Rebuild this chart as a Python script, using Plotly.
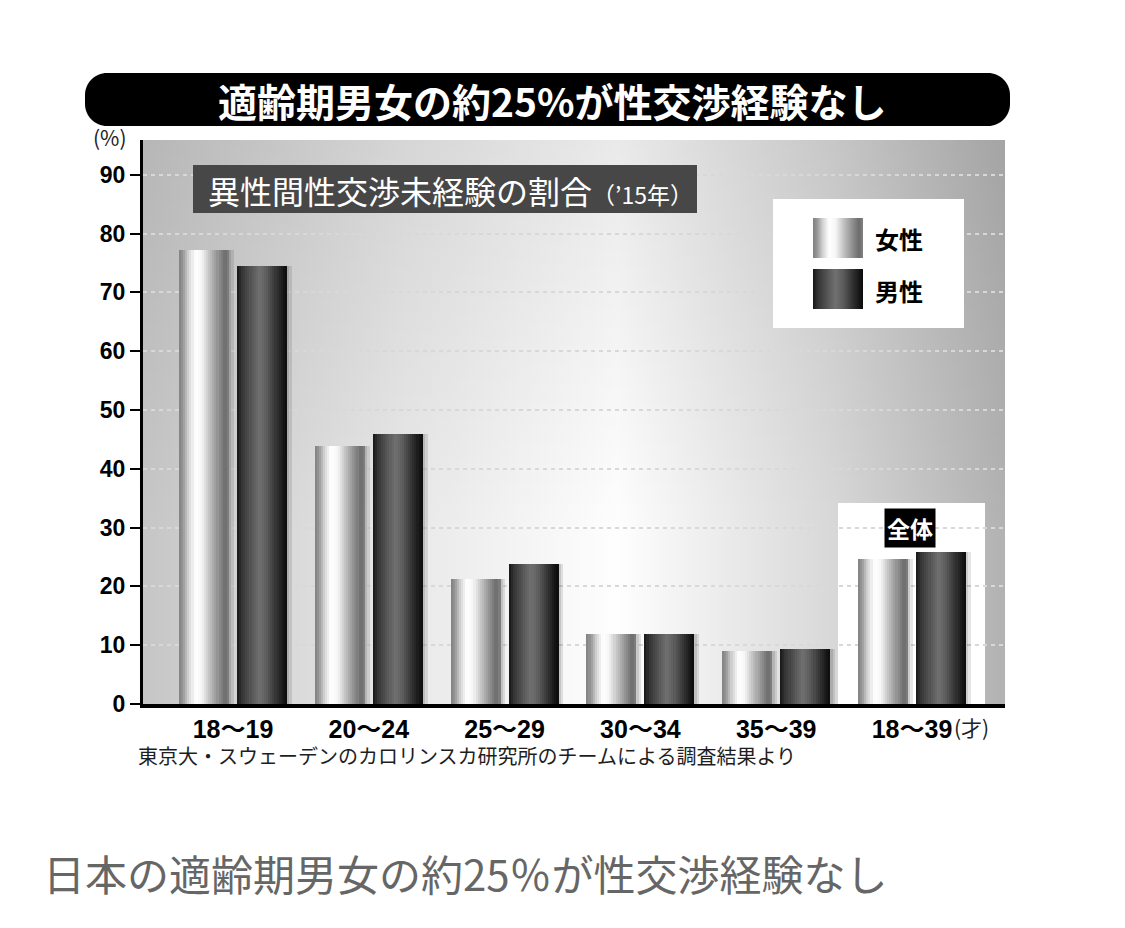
import base64
import plotly.graph_objects as go

categories = ["18〜19", "20〜24", "25〜29", "30〜34", "35〜39", "18〜39"]
female = [77.2, 43.8, 21.2, 11.9, 9.0, 24.6]
male = [74.5, 46.0, 23.8, 11.9, 9.4, 25.9]
y_ticks = [0, 10, 20, 30, 40, 50, 60, 70, 80, 90]

# plot area in pixels of the reference (left, right, top, bottom)
L, R, T, B = 143, 1005, 140, 704
W, H = R - L, B - T
PAGE = 8  # the page body margin shifts the figure by this much

BAR_W = 0.368
STRIPS = 24
FEMALE_SHADE = [(0, 128), (0.08, 150), (0.2, 212), (0.32, 255), (0.45, 246),
                (0.62, 192), (0.8, 140), (0.92, 108), (1, 130)]
MALE_SHADE = [(0, 22), (0.1, 52), (0.3, 88), (0.45, 112), (0.6, 92),
              (0.8, 48), (0.95, 18), (1, 12)]


def shade_at(profile, t):
    for (t0, g0), (t1, g1) in zip(profile, profile[1:]):
        if t0 <= t <= t1:
            return int(round(g0 + (g1 - g0) * (t - t0) / (t1 - t0)))
    return profile[-1][1]


def grey(g):
    return f"rgb({g},{g},{g})"


def px(x, y):
    return (x - L) / W, (B - y) / H


def svg_uri(body, w=100, h=100):
    svg = (f"<svg xmlns='http://www.w3.org/2000/svg' width='{w}' height='{h}' "
           f"viewBox='0 0 {w} {h}' preserveAspectRatio='none'>{body}</svg>")
    return "data:image/svg+xml;base64," + base64.b64encode(svg.encode()).decode()


def stops(profile):
    return "".join(f"<stop offset='{t}' stop-color='{grey(g)}'/>" for t, g in profile)


background = svg_uri(
    "<defs><linearGradient id='h' x1='0' y1='0' x2='1' y2='0'>"
    "<stop offset='0' stop-color='#c6c6c6'/><stop offset='0.3' stop-color='#e8e8e8'/>"
    "<stop offset='0.55' stop-color='#fefefe'/><stop offset='0.8' stop-color='#d8d8d8'/>"
    "<stop offset='1' stop-color='#b2b2b2'/></linearGradient>"
    "<linearGradient id='v' x1='0' y1='0' x2='0' y2='1'>"
    "<stop offset='0' stop-color='#000' stop-opacity='0.08'/>"
    "<stop offset='0.7' stop-color='#000' stop-opacity='0'/></linearGradient></defs>"
    "<rect width='100' height='100' fill='url(#h)'/>"
    "<rect width='100' height='100' fill='url(#v)'/>"
)

# legend box: white panel with the two shaded swatches
lg_x0, lg_x1, lg_y0, lg_y1 = 773, 964, 199, 328
legend_img = svg_uri(
    "<defs>"
    f"<linearGradient id='f' x1='0' y1='0' x2='1' y2='0'>{stops(FEMALE_SHADE)}</linearGradient>"
    f"<linearGradient id='m' x1='0' y1='0' x2='1' y2='0'>{stops(MALE_SHADE)}</linearGradient>"
    "</defs>"
    f"<rect width='{lg_x1 - lg_x0}' height='{lg_y1 - lg_y0}' fill='white'/>"
    "<rect x='40' y='19' width='50' height='40' fill='url(#f)'/>"
    "<rect x='40' y='70' width='50' height='40' fill='url(#m)'/>",
    lg_x1 - lg_x0, lg_y1 - lg_y0,
)

fig = go.Figure()

series = [("女性", female, -0.398, FEMALE_SHADE), ("男性", male, 0.029, MALE_SHADE)]

# soft shadows to the right of the bars
for name, vals, off, prof in series:
    for k, a in enumerate([0.2, 0.1]):
        fig.add_trace(go.Bar(
            x=categories, y=vals, offset=off + BAR_W + k * 0.018, width=0.018,
            marker=dict(color=f"rgba(0,0,0,{a})", line=dict(width=0)),
            hoverinfo="skip", showlegend=False,
        ))

# each bar is drawn as narrow vertical strips to get the cylinder shading
sw = BAR_W / STRIPS
for name, vals, off, prof in series:
    for i in range(STRIPS):
        o = off + i * sw
        fig.add_trace(go.Bar(
            x=categories, y=vals, offset=o, width=min(sw * 1.6, off + BAR_W - o),
            marker=dict(color=grey(shade_at(prof, (i + 0.5) / STRIPS)), line=dict(width=0)),
            name=name, hoverinfo="skip" if i else "x+y+name", showlegend=False,
        ))

# rounded title bar
tl, tr, tt, tb, r = 85, 1010, 73, 126, 22
k = 0.5523 * r
pts = [
    ("M", [(tl + r, tt)]), ("L", [(tr - r, tt)]),
    ("C", [(tr - r + k, tt), (tr, tt + r - k), (tr, tt + r)]), ("L", [(tr, tb - r)]),
    ("C", [(tr, tb - r + k), (tr - r + k, tb), (tr - r, tb)]), ("L", [(tl + r, tb)]),
    ("C", [(tl + r - k, tb), (tl, tb - r + k), (tl, tb - r)]), ("L", [(tl, tt + r)]),
    ("C", [(tl, tt + r - k), (tl + r - k, tt), (tl + r, tt)]),
]
path = " ".join(c + " " + " ".join("%.5f,%.5f" % px(x, y) for x, y in p) for c, p in pts) + " Z"

shapes = [
    dict(type="path", path=path, xref="paper", yref="paper", fillcolor="black",
         line=dict(width=0), layer="above"),
    # subtitle panel
    dict(type="rect", xref="paper", yref="paper", x0=px(193, 0)[0], x1=px(697, 0)[0],
         y0=px(0, 213)[1], y1=px(0, 165)[1], fillcolor="#474747", line=dict(width=0),
         layer="above"),
    # panel behind the total group (under the gridlines)
    dict(type="rect", xref="paper", yref="paper", x0=px(838, 0)[0], x1=px(985, 0)[0],
         y0=0, y1=px(0, 503)[1], fillcolor="white", line=dict(width=0), layer="below"),
]

images = [
    dict(source=background, xref="paper", yref="paper", x=0, y=1, sizex=1, sizey=1,
         sizing="stretch", xanchor="left", yanchor="top", layer="below"),
    dict(source=legend_img, xref="paper", yref="paper", x=px(lg_x0, 0)[0], y=px(0, lg_y0)[1],
         sizex=(lg_x1 - lg_x0) / W, sizey=(lg_y1 - lg_y0) / H, sizing="stretch",
         xanchor="left", yanchor="top", layer="above"),
]

JP = "Noto Sans CJK JP"
annotations = [
    dict(text="適齢期男女の約25%が性交渉経験なし", x=px(552, 0)[0], y=px(0, 100)[1],
         font=dict(family=JP, size=39, color="white", weight="bold")),
    dict(text="異性間性交渉未経験の割合<span style='font-size:23px'>（’15年）</span>",
         x=px(206, 0)[0], y=px(0, 190)[1], xanchor="left",
         font=dict(family=JP, size=32, color="white")),
    dict(text="女性", x=px(873, 0)[0], y=px(0, 239)[1], xanchor="left",
         font=dict(family=JP, size=24, color="black", weight="bold")),
    dict(text="男性", x=px(873, 0)[0], y=px(0, 290)[1], xanchor="left",
         font=dict(family=JP, size=24, color="black", weight="bold")),
    dict(text="全体", x=px(910, 0)[0], y=px(0, 528)[1], bgcolor="black", borderpad=2,
         font=dict(family=JP, size=23, color="white", weight="bold")),
    dict(text="(%)", x=px(110, 0)[0], y=px(0, 137)[1],
         font=dict(family=JP, size=21, color="#222")),
    dict(text="(才)", x=px(952, 0)[0], y=px(0, 727)[1], xanchor="left",
         font=dict(family=JP, size=21, color="#222")),
    dict(text="東京大・スウェーデンのカロリンスカ研究所のチームによる調査結果より",
         x=px(136, 0)[0], y=px(0, 755)[1], xanchor="left",
         font=dict(family=JP, size=20, color="#1e1e1e")),
    dict(text="日本の適齢期男女の約25％が性交渉経験なし", x=px(41, 0)[0], y=px(0, 872)[1],
         xanchor="left", font=dict(family=JP, size=42, color="#666666")),
]
for a in annotations:
    a.update(xref="paper", yref="paper", showarrow=False)
    a.setdefault("xanchor", "center")
    a.setdefault("yanchor", "middle")

fig.update_layout(
    width=1125, height=928,
    margin=dict(l=L - PAGE, r=1125 - R + PAGE, t=T - PAGE, b=928 - B + PAGE),
    paper_bgcolor="white", plot_bgcolor="rgba(0,0,0,0)",
    barmode="overlay", bargap=0, showlegend=False,
    shapes=shapes, images=images, annotations=annotations,
    xaxis=dict(type="category", range=[-0.663, 5.685], showline=True, linecolor="black",
               linewidth=4, ticks="", showgrid=False, zeroline=False,
               tickfont=dict(family="Liberation Sans, " + JP, size=25, color="black",
                             weight="bold")),
    yaxis=dict(range=[0, H / 5.88], tickvals=y_ticks, showline=True, linecolor="black",
               linewidth=3, ticks="outside", ticklen=10, tickwidth=1.5, tickcolor="black",
               showgrid=True, gridcolor="#d8d8d8", griddash="4px,4px", gridwidth=1.5,
               zeroline=False,
               tickfont=dict(family="Liberation Sans", size=23, color="black",
                             weight="bold")),
)

fig.write_html("out.html")
